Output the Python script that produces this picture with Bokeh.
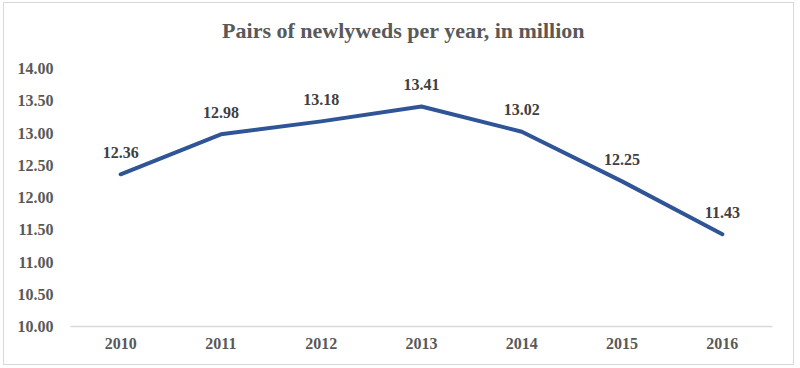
from bokeh.plotting import figure
from bokeh.models import ColumnDataSource, FixedTicker, NumeralTickFormatter, Range1d, FactorRange
from bokeh.core.properties import value
from bokeh.embed import file_html
from bokeh.resources import INLINE

title = "Pairs of newlyweds per year, in million"
years = ["2010", "2011", "2012", "2013", "2014", "2015", "2016"]
pairs = [12.36, 12.98, 13.18, 13.41, 13.02, 12.25, 11.43]
y_ticks = [10.0, 10.5, 11.0, 11.5, 12.0, 12.5, 13.0, 13.5, 14.0]

# the frame extends above the last tick to host the title (60 px at 64.5 px per unit)
y_top = y_ticks[-1] + 60 / 64.5

src = ColumnDataSource(dict(x=years, y=pairs, lbl=[f"{v:.2f}" for v in pairs]))

p = figure(width=791, height=363, output_backend="svg", toolbar_location=None,
           x_range=FactorRange(*years, range_padding=0), y_range=Range1d(y_ticks[0], y_top),
           min_border_left=66, min_border_right=23, min_border_top=5, min_border_bottom=40)

# title, centred over the middle of the category axis
p.text(x=[len(years) / 2], y=[y_top], text=[title], x_offset=-18, y_offset=22,
       text_align="center", text_baseline="middle",
       text_font=value("Liberation Serif"), text_font_size="22px", text_font_style="bold",
       text_color="#595959")

p.line("x", "y", source=src, line_color="#2F5597", line_width=4, line_join="round", line_cap="round")
p.text("x", "y", text="lbl", source=src, y_offset=-22, text_align="center", text_baseline="alphabetic",
       text_font=value("Liberation Serif"), text_font_size="16px", text_font_style="bold", text_color="#404040")

p.grid.visible = False
p.outline_line_color = None

p.yaxis.ticker = FixedTicker(ticks=y_ticks)
p.yaxis.formatter = NumeralTickFormatter(format="0.00")
p.yaxis.axis_line_color = None
p.yaxis.major_tick_line_color = None
p.yaxis.minor_tick_line_color = None
p.yaxis.major_tick_out = 0
p.yaxis.minor_tick_out = 0
p.yaxis.major_label_standoff = 17

p.xaxis.axis_line_color = "#D9D9D9"
p.xaxis.axis_line_width = 1.5
p.xaxis.major_tick_line_color = None
p.xaxis.minor_tick_line_color = None
p.xaxis.major_tick_out = 0
p.xaxis.minor_tick_out = 0
p.xaxis.major_label_standoff = 11

for ax in (p.xaxis, p.yaxis):
    ax.major_label_text_font = "Liberation Serif"
    ax.major_label_text_font_size = "16px"
    ax.major_label_text_font_style = "bold"
    ax.major_label_text_color = "#595959"

p.styles = {"border": "1px solid #D9D9D9", "box-sizing": "border-box", "margin": "2px 0 0 3px"}

open("out.html", "w").write(file_html(p, INLINE))
